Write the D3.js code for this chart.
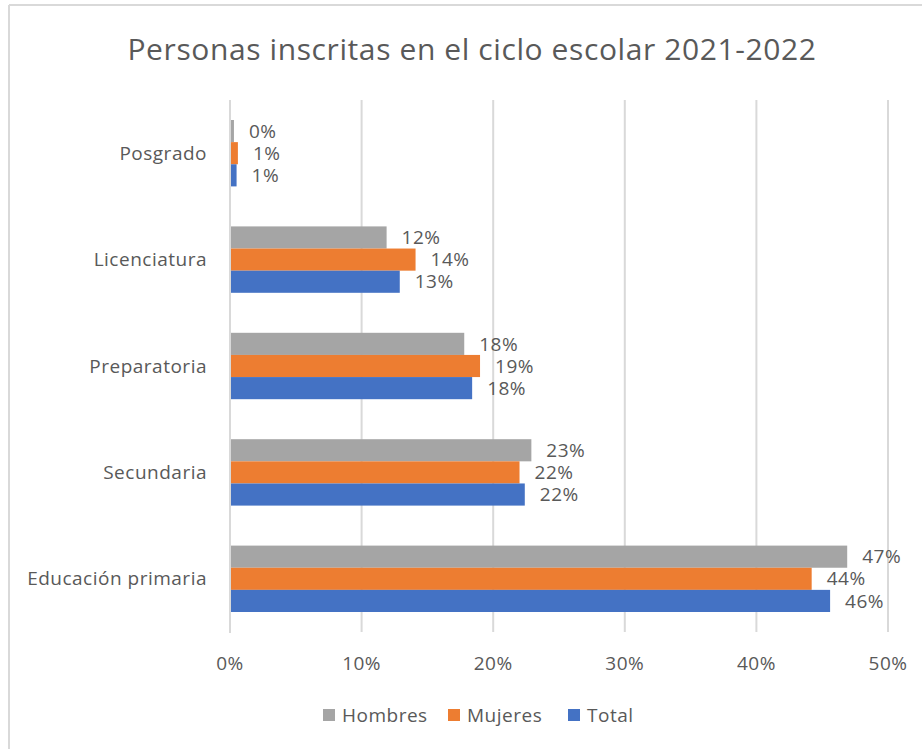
<!DOCTYPE html>
<html>
<head>
<meta charset="utf-8">
<script src="https://cdn.jsdelivr.net/npm/d3@7"></script>
<style>
  body { margin: 0; background: #fff; }
  svg text { font-family: "Open Sans", "Noto Sans", sans-serif; fill: #595959; letter-spacing: 0.5px; }
</style>
</head>
<body>
<svg id="chart" width="922" height="749"></svg>
<script>
// Data (shares of enrolment per level)
const categories = ["Posgrado", "Licenciatura", "Preparatoria", "Secundaria", "Educación primaria"];
const seriesNames = ["Hombres", "Mujeres", "Total"];
const hombres = [0.003, 0.119, 0.178, 0.229, 0.469];
const mujeres = [0.006, 0.141, 0.190, 0.220, 0.442];
const total = [0.005, 0.129, 0.184, 0.224, 0.456];
const ticks = [0, 0.1, 0.2, 0.3, 0.4, 0.5];
const colors = ["#a5a5a5", "#ed7d31", "#4472c4"];

const svg = d3.select("#chart");
const values = [hombres, mujeres, total];

// frame lines (left + top only visible)
svg.append("line").attr("x1", 9).attr("x2", 922).attr("y1", 5).attr("y2", 5)
    .attr("stroke", "#d9d9d9").attr("stroke-width", 2);
svg.append("line").attr("x1", 9).attr("x2", 9).attr("y1", 5).attr("y2", 749)
    .attr("stroke", "#d9d9d9").attr("stroke-width", 2);

// title
svg.append("text")
    .attr("x", 472).attr("y", 60)
    .attr("text-anchor", "middle")
    .style("font-size", "30px")
    .style("letter-spacing", "0.6px")
    .text("Personas inscritas en el ciclo escolar 2021-2022");

const x = d3.scaleLinear().domain([0, 0.5]).range([230, 888]);
const y = d3.scaleBand().domain(categories).range([100, 632])
    .paddingInner(0.376).paddingOuter(0.188);
const inner = d3.scaleBand().domain(seriesNames).range([0, y.bandwidth()]);

// gridlines
svg.append("g").selectAll("line")
    .data(ticks.slice(1))
    .join("line")
    .attr("x1", d => x(d)).attr("x2", d => x(d))
    .attr("y1", 100).attr("y2", 632)
    .attr("stroke", "#d9d9d9").attr("stroke-width", 2);

// bars
const groups = svg.append("g").selectAll("g")
    .data(categories)
    .join("g")
    .attr("transform", d => `translate(0,${y(d)})`);

groups.each(function (cat, ci) {
    const g = d3.select(this);
    seriesNames.forEach((s, si) => {
        const v = values[si][ci];
        g.append("rect")
            .attr("x", x(0))
            .attr("y", inner(s))
            .attr("width", x(v) - x(0))
            .attr("height", inner.bandwidth())
            .attr("fill", colors[si]);
        g.append("text")
            .attr("x", x(v) + 15)
            .attr("y", inner(s) + inner.bandwidth() / 2)
            .attr("dy", "0.35em")
            .style("font-size", "19px")
            .text(d3.format(".0%")(v));
    });
});

// axis line at 0
svg.append("line").attr("x1", x(0)).attr("x2", x(0)).attr("y1", 100).attr("y2", 633)
    .attr("stroke", "#d9d9d9").attr("stroke-width", 2);

// category labels
svg.append("g").selectAll("text")
    .data(categories)
    .join("text")
    .attr("x", 207)
    .attr("y", d => y(d) + y.bandwidth() / 2)
    .attr("dy", "0.35em")
    .attr("text-anchor", "end")
    .style("font-size", "19px")
    .text(d => d);

// x tick labels
svg.append("g").selectAll("text")
    .data(ticks)
    .join("text")
    .attr("x", d => x(d))
    .attr("y", 663)
    .attr("dy", "0.35em")
    .attr("text-anchor", "middle")
    .style("font-size", "19px")
    .text(d => d3.format(".0%")(d));

// legend
const legendX = [323, 448, 568];
const legend = svg.append("g").selectAll("g")
    .data(seriesNames)
    .join("g")
    .attr("transform", (d, i) => `translate(${legendX[i]},715)`);
legend.append("rect")
    .attr("x", 0).attr("y", -6).attr("width", 12).attr("height", 12)
    .attr("fill", (d, i) => colors[i]);
legend.append("text")
    .attr("x", 19).attr("dy", "0.35em")
    .style("font-size", "19px")
    .text(d => d);
</script>
</body>
</html>
